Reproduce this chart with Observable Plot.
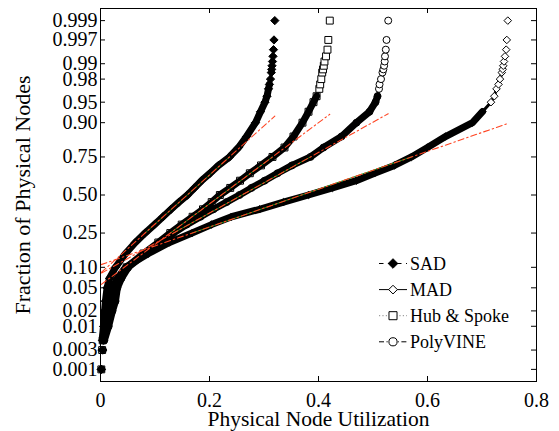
<!DOCTYPE html>
<html>
<head>
<meta charset="utf-8">
<script src="https://cdn.jsdelivr.net/npm/d3@7"></script>
<script src="https://cdn.jsdelivr.net/npm/@observablehq/plot@0.6"></script>
<style>
  html, body { margin: 0; padding: 0; background: #fff; }
  #chart { width: 559px; height: 431px; }
</style>
</head>
<body>
<div id="chart"></div>
<script>
// ---------- data ----------
const seriesNames = ["SAD", "MAD", "Hub & Spoke", "PolyVINE"];

// cumulative probability levels at which utilization was read
const levels = [0.001, 0.003, 0.005, 0.01, 0.02, 0.03, 0.05, 0.07, 0.10, 0.15, 0.20, 0.25,
  0.30, 0.35, 0.40, 0.45, 0.50, 0.55, 0.60, 0.65, 0.70, 0.75, 0.80, 0.85, 0.90, 0.93,
  0.95, 0.96, 0.97, 0.975, 0.98, 0.985, 0.987, 0.989, 0.991, 0.993, 0.995, 0.997, 0.999];

const sadX = [0.0015, 0.004, 0.005, 0.006, 0.0075, 0.009, 0.012, 0.0165, 0.0275, 0.046, 0.064, 0.0817,
  0.099, 0.1147, 0.1294, 0.144, 0.1596, 0.1725, 0.1853, 0.2009, 0.2165, 0.2367, 0.2532, 0.2679, 0.2844, 0.2936,
  0.3018, 0.3055, 0.3083, 0.3100, 0.3119, 0.3134, 0.3141, 0.3147, 0.3156, 0.3165, 0.3174, 0.3183, 0.3198];

const madX = [0.001, 0.002, 0.003, 0.0055, 0.010, 0.0147, 0.0211, 0.0312, 0.0459, 0.0881, 0.1266, 0.1680,
  0.2037, 0.2404, 0.2917, 0.3358, 0.3817, 0.4257, 0.4692, 0.5028, 0.5394, 0.5706, 0.6000, 0.6330, 0.6826, 0.7009,
  0.7165, 0.7226, 0.7266, 0.7303, 0.7330, 0.7363, 0.7380, 0.7390, 0.7404, 0.7422, 0.7444, 0.7455, 0.7473];

const hubX = [0.0015, 0.003, 0.004, 0.007, 0.013, 0.018, 0.026, 0.033, 0.048, 0.079, 0.106, 0.128,
  0.149, 0.169, 0.188, 0.204, 0.219, 0.238, 0.256, 0.274, 0.2945, 0.3156, 0.3376, 0.3541, 0.3706, 0.3817,
  0.3908, 0.3965, 0.4015, 0.4031, 0.4051, 0.4068, 0.4083, 0.4097, 0.4110, 0.4138, 0.4165, 0.4180, 0.4207];

const polyX = [0.002, 0.0045, 0.007, 0.015, 0.022, 0.0275, 0.031, 0.0385, 0.051, 0.0826, 0.110, 0.134,
  0.158, 0.1835, 0.2073, 0.2312, 0.255, 0.277, 0.301, 0.3248, 0.3514, 0.3853, 0.4092, 0.4422, 0.4697, 0.4936,
  0.5046, 0.5083, 0.5110, 0.5120, 0.5147, 0.5174, 0.5190, 0.5204, 0.5215, 0.5220, 0.5235, 0.5248, 0.5279];

const xTicks = [0, 0.2, 0.4, 0.6, 0.8];
const xTickLabels = ["0", "0.2", "0.4", "0.6", "0.8"];
const yTicks = [0.001, 0.003, 0.01, 0.02, 0.05, 0.10, 0.25, 0.50, 0.75, 0.90, 0.95, 0.98, 0.99, 0.997, 0.999];
const yTickLabels = ["0.001", "0.003", "0.01", "0.02", "0.05", "0.10", "0.25", "0.50", "0.75", "0.90", "0.95", "0.98", "0.99", "0.997", "0.999"];

// ---------- helpers ----------
// inverse standard normal CDF (probability-paper scale)
function probit(p) {
  const a = [-3.969683028665376e+01, 2.209460984245205e+02, -2.759285104469687e+02, 1.383577518672690e+02, -3.066479806614716e+01, 2.506628277459239e+00];
  const b = [-5.447609879822406e+01, 1.615858368580409e+02, -1.556989798598866e+02, 6.680131188771972e+01, -1.328068155288572e+01];
  const c = [-7.784894002430293e-03, -3.223964580411365e-01, -2.400758277161838e+00, -2.549671010243000e+00, 4.374664141464968e+00, 2.938163982698783e+00];
  const d = [7.784695709041462e-03, 3.224671290700398e-01, 2.445134137142996e+00, 3.754408661907416e+00];
  const pl = 0.02425, ph = 1 - pl;
  if (p < pl) {
    const q = Math.sqrt(-2 * Math.log(p));
    return (((((c[0]*q+c[1])*q+c[2])*q+c[3])*q+c[4])*q+c[5]) / ((((d[0]*q+d[1])*q+d[2])*q+d[3])*q+1);
  }
  if (p <= ph) {
    const q = p - 0.5, r = q*q;
    return (((((a[0]*r+a[1])*r+a[2])*r+a[3])*r+a[4])*r+a[5])*q / (((((b[0]*r+b[1])*r+b[2])*r+b[3])*r+b[4])*r+1);
  }
  const q = Math.sqrt(-2 * Math.log(1 - p));
  return -(((((c[0]*q+c[1])*q+c[2])*q+c[3])*q+c[4])*q+c[5]) / ((((d[0]*q+d[1])*q+d[2])*q+d[3])*q+1);
}

const diamond = {
  draw(ctx, size) {
    const h = Math.sqrt(size / 2);
    ctx.moveTo(0, -h); ctx.lineTo(h, 0); ctx.lineTo(0, h); ctx.lineTo(-h, 0); ctx.closePath();
  }
};
const square = {
  draw(ctx, size) {
    const s = Math.sqrt(size) / 2;
    ctx.moveTo(-s, -s); ctx.lineTo(s, -s); ctx.lineTo(s, s); ctx.lineTo(-s, s); ctx.closePath();
  }
};
const circle = {
  draw(ctx, size) {
    const r = Math.sqrt(size / Math.PI);
    ctx.moveTo(r, 0); ctx.arc(0, 0, r, 0, 2 * Math.PI);
  }
};

const seriesX = [sadX, madX, hubX, polyX];
const seriesSymbol = [diamond, diamond, square, circle];
const seriesFilled = [true, false, false, false];
const seriesR = [3.3, 3.0, 3.9, 3.5];
const seriesBandTop = [0.975, 0.93, 0.96, 0.96];   // where the marker chain stops looking solid
const seriesDash = ["4.5,4.5", null, "1.2,2.2", "5,2.5,1.2,2.5"];
const seriesLegendStroke = ["black", "black", "#888", "black"];

const rows = [];
seriesNames.forEach((name, s) => {
  levels.forEach((p, i) => rows.push({series: name, s, p, x: seriesX[s][i], z: probit(p)}));
});

// robust reference line through the sample quartiles (as in normplot)
const q75 = probit(0.75);
const i25 = levels.indexOf(0.25), i75 = levels.indexOf(0.75);
const greenRows = [], redRows = [];
seriesNames.forEach((name, s) => {
  const xs = seriesX[s];
  const mu = (xs[i25] + xs[i75]) / 2;
  const sigma = (xs[i75] - xs[i25]) / (2 * q75);
  const zOf = (x) => (x - mu) / sigma;
  greenRows.push({series: name, x: xs[i25], z: zOf(xs[i25])}, {series: name, x: xs[i75], z: zOf(xs[i75])});
  const lo = d3.min(xs), hi = d3.max(xs);
  redRows.push({series: name, x: lo, z: zOf(lo)}, {series: name, x: hi, z: zOf(hi)});
});

const bandRows = rows.filter(d => d.p >= 0.005 && d.p <= seriesBandTop[d.s]);
const chainRows = rows.filter(d => d.p >= seriesBandTop[d.s] && d.p <= 0.991);

const W = 559, H = 431;
const mL = 100, mR = 23, mT = 8, mB = 50;
const pw = W - mL - mR, ph = H - mT - mB;
const tickLen = 5;
const yLabelMap = new Map(yTicks.map((p, i) => [probit(p), yTickLabels[i]]));
const xLabelMap = new Map(xTicks.map((v, i) => [v, xTickLabels[i]]));

const marks = [
  Plot.line(bandRows, {x: "x", y: "z", z: "series", stroke: "black", strokeWidth: 7,
    strokeLinejoin: "round", strokeLinecap: "round"}),
  Plot.line(chainRows, {x: "x", y: "z", z: "series", stroke: "black", strokeWidth: 3,
    strokeLinejoin: "round", strokeLinecap: "round"}),
];
seriesNames.forEach((name, s) => {
  const mine = rows.filter(d => d.series === name);
  const top = seriesBandTop[s];
  marks.push(Plot.dot(mine.filter(d => d.p <= top), {
    x: "x", y: "z", symbol: seriesSymbol[s], r: seriesR[s],
    fill: seriesFilled[s] ? "black" : "none", stroke: "black", strokeWidth: 1
  }));
  marks.push(Plot.dot(mine.filter(d => d.p > top), {
    x: "x", y: "z", symbol: seriesSymbol[s], r: seriesR[s],
    fill: seriesFilled[s] ? "black" : "white", stroke: "black", strokeWidth: 1
  }));
});
marks.push(
  Plot.line(greenRows, {x: "x", y: "z", z: "series", stroke: "#1f8f1f", strokeWidth: 1}),
  Plot.line(redRows, {x: "x", y: "z", z: "series", stroke: "#ff4422", strokeWidth: 1.1,
    strokeDasharray: "6,3,1.5,3"}),
  // inward ticks on all four sides
  Plot.tickY(yTicks.map(probit), {y: d => d, stroke: "black", insetRight: pw - tickLen}),
  Plot.tickY(yTicks.map(probit), {y: d => d, stroke: "black", insetLeft: pw - tickLen}),
  Plot.tickX(xTicks, {x: d => d, stroke: "black", insetTop: ph - tickLen}),
  Plot.tickX(xTicks, {x: d => d, stroke: "black", insetBottom: ph - tickLen}),
  Plot.frame({stroke: "black", strokeWidth: 1}),
  Plot.axisY(yTicks.map(probit), {tickSize: 0, tickPadding: 3, label: null,
    tickFormat: z => yLabelMap.get(z), fontSize: 20}),
  Plot.axisX(xTicks, {tickSize: 0, tickPadding: 11, label: null,
    tickFormat: v => xLabelMap.get(v), fontSize: 20}),
  Plot.text(["Physical Node Utilization"], {frameAnchor: "bottom", dy: 38, lineAnchor: "middle",
    textAnchor: "middle", fontSize: 21.5, text: d => d}),
  Plot.text(["Fraction of Physical Nodes"], {frameAnchor: "left", dx: -78, rotate: -90,
    lineAnchor: "middle", textAnchor: "middle", fontSize: 22, text: d => d})
);

const chart = Plot.plot({
  width: W, height: H,
  marginLeft: mL, marginRight: mR, marginTop: mT, marginBottom: mB,
  x: {domain: [0, 0.8]},
  y: {domain: [-3.305, 3.305]},
  style: {fontFamily: "'Liberation Serif', 'Times New Roman', serif", fontSize: "20px", background: "white", color: "black"},
  marks
});

// legend (inside the axes, lower right, no box)
const svg = d3.select(chart);
const lg = svg.append("g").attr("font-family", "'Liberation Serif', serif").attr("font-size", 18)
  .attr("text-anchor", "start");
const legX0 = 379, legX1 = 407, legXm = 393, legXt = 410, legY0 = 263.5, legDy = 26.1;
seriesNames.forEach((name, s) => {
  const y = legY0 + s * legDy;
  const line = lg.append("line").attr("x1", legX0).attr("x2", legX1).attr("y1", y).attr("y2", y)
    .attr("stroke", seriesLegendStroke[s]).attr("stroke-width", 1);
  if (seriesDash[s]) line.attr("stroke-dasharray", seriesDash[s]);
  const size = Math.PI * seriesR[s] * seriesR[s] * 1.35;
  lg.append("path").attr("transform", `translate(${legXm},${y})`)
    .attr("d", d3.symbol(seriesSymbol[s], size)())
    .attr("fill", seriesFilled[s] ? "black" : "white").attr("stroke", "black").attr("stroke-width", 1);
  lg.append("text").attr("x", legXt).attr("y", y).attr("dy", "0.34em").attr("fill", "black")
    .attr("text-anchor", "start").text(name);
});

document.getElementById("chart").appendChild(chart);
</script>
</body>
</html>
